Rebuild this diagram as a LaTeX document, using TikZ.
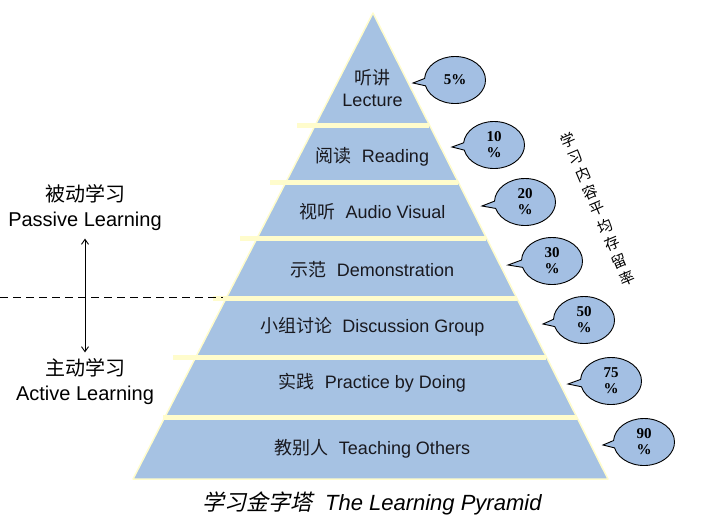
\documentclass[tikz,border=0pt]{standalone}
\usepackage{fontspec}
\setmainfont{Liberation Sans}
\newfontfamily\zhfont{Noto Sans CJK SC}
\newfontfamily\zhslant{Noto Sans CJK SC}[FakeSlant=0.22]
\newfontfamily\numfont{Liberation Serif}
\usepackage{xcolor}
\definecolor{pyrblue}{rgb}{0.65,0.76,0.89}
\definecolor{bubblue}{rgb}{0.64,0.75,0.89}
\definecolor{stripcream}{rgb}{1.0,0.99,0.80}
\definecolor{inkgray}{rgb}{0.1,0.1,0.12}
\usepackage{tikz}
\usetikzlibrary{arrows.meta, shapes.callouts}

\begin{document}
\begin{tikzpicture}[x=1pt, y=-1pt, >={Straight Barb[length=5pt,width=7pt]},
  bandlabel/.style={font=\fontsize{18}{22}\selectfont, align=center, text=inkgray},
  sidelabel/.style={font=\fontsize{20}{25}\selectfont, align=center},
  retbubble/.style={ellipse callout, draw=black, line width=0.9pt, fill=bubblue,
    minimum width=61pt, minimum height=47pt, inner sep=0pt, align=center,
    callout pointer arc=18, font=\numfont\bfseries\fontsize{15}{16}\selectfont},
  bandstrip/.style={draw=stripcream, line width=5pt}]
\useasboundingbox (0,0) rectangle (719,530);
% pyramid body
\filldraw[fill=pyrblue, draw=stripcream, line width=1.5pt, line join=round] (373,13) -- (608,479) -- (133,479) -- cycle;
% separating strips between the bands
\foreach \y/\xl in {125/297, 182/270, 238/240, 298/213, 357/173, 417/163}
  \draw[bandstrip] (\xl,\y) -- ({373+0.5043*(\y-13)},\y);
% passive / active divide
\coordinate (dashL) at (0,297);
\coordinate (dashR) at (223,297);
\draw[dash pattern=on 8pt off 5pt, line width=1pt] (dashL) -- (dashR);
% band labels
\node[bandlabel] (lecture) at (372.5,88) {{\zhfont 听讲}\\Lecture};
\node[bandlabel] (reading) at (372.5,157) {{\zhfont 阅读}\ \ Reading};
\node[bandlabel] (audio) at (372.5,212) {{\zhfont 视听}\ \ Audio Visual};
\node[bandlabel] (demo) at (372.5,270) {{\zhfont 示范}\ \ Demonstration};
\node[bandlabel] (discuss) at (372.5,327) {{\zhfont 小组讨论}\ \ Discussion Group};
\node[bandlabel] (practice) at (372.5,383) {{\zhfont 实践}\ \ Practice by Doing};
\node[bandlabel] (teach) at (372.5,449) {{\zhfont 教别人}\ \ Teaching Others};
% retention bubbles
\node[retbubble, callout absolute pointer={(413,83)}] (b5) at (455,80) {5\%};
\node[retbubble, callout absolute pointer={(452,147)}] (b10) at (494,145) {10\\\%};
\node[retbubble, callout absolute pointer={(482,206)}] (b20) at (525,202) {20\\\%};
\node[retbubble, callout absolute pointer={(508,265)}] (b30) at (552,261) {30\\\%};
\node[retbubble, callout absolute pointer={(543,324)}] (b50) at (584,320) {50\\\%};
\node[retbubble, callout absolute pointer={(568,384)}] (b75) at (611,381) {75\\\%};
\node[retbubble, callout absolute pointer={(603,445)}] (b90) at (644,442) {90\\\%};
% side caption along the slope
\foreach \ch [count=\i from 0] in {学,习,内,容,平,均,存,留,率}
  \node[font=\zhfont\fontsize{15}{16}\selectfont, rotate=23, inner sep=0pt] (ret\i) at ({568+7.35*\i},{140+17.3*\i}) {\ch};
% left side labels
\node[sidelabel] (passive) at (85,208) {{\zhfont 被动学习}\\Passive Learning};
\node[sidelabel] (active) at (85,382) {{\zhfont 主动学习}\\Active Learning};
\draw[<->, line width=0.9pt, shorten <=4pt, shorten >=3pt] (passive.south) -- (active.north);
% title
\node[font=\fontsize{22}{26}\selectfont] (title) at (372.5,503) {{\zhslant 学习金字塔}\ \ \textit{The Learning Pyramid}};
\end{tikzpicture}
\end{document}
